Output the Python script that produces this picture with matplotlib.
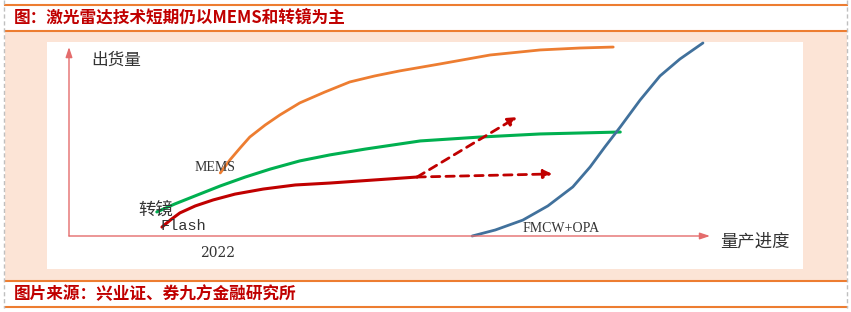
import matplotlib
matplotlib.use("Agg")
import matplotlib.pyplot as plt
from matplotlib.patches import Rectangle

plt.rcParams['font.family'] = ['Noto Sans CJK SC', 'DejaVu Sans']

# data (x = 量产进度, y = 出货量, arbitrary 0-100 scale)
mems_x = [23.6, 25.1, 26.7, 28.2, 30.6, 32.9, 36.0, 39.9, 43.8, 47.7, 51.6, 57.9, 65.7, 73.5, 79.7, 84.9]
mems_y = [32.5, 39.2, 45.4, 51.0, 57.2, 62.4, 68.6, 74.2, 79.4, 82.5, 85.1, 88.7, 93.3, 95.9, 96.9, 97.4]

mirror_x = [13.7, 16.5, 20.0, 23.6, 27.5, 31.4, 36.0, 40.7, 46.2, 54.8, 64.1, 73.5, 86.0]
mirror_y = [12.4, 16.5, 21.1, 25.8, 30.4, 34.5, 38.7, 41.8, 44.8, 49.0, 51.0, 52.6, 53.6]

flash_x = [14.5, 15.8, 17.3, 19.7, 22.5, 25.9, 30.3, 35.3, 40.7, 47.7, 54.3]
flash_y = [4.6, 8.2, 11.9, 15.5, 18.6, 21.6, 24.2, 26.3, 27.3, 28.9, 30.4]

fmcw_x = [62.9, 66.5, 70.8, 74.7, 78.6, 81.3, 83.6, 86.0, 89.1, 92.2, 95.3, 98.9]
fmcw_y = [0.0, 3.1, 8.2, 15.5, 25.3, 35.6, 45.9, 56.2, 70.1, 82.5, 91.2, 99.5]

arrow_start = (54.3, 30.4)
arrow_up_end = (69.9, 61.3)
arrow_flat_end = (75.4, 32.0)

title = "图：激光雷达技术短期仍以MEMS和转镜为主"
source = "图片来源：兴业证、券九方金融研究所"

W, H = 851, 312
fig = plt.figure(figsize=(W / 100, H / 100), dpi=100)

# background frame in pixel coords
bg = fig.add_axes([0, 0, 1, 1])
bg.set_xlim(0, W)
bg.set_ylim(H, 0)
bg.axis('off')
bg.add_patch(Rectangle((5, 31), 842, 250, color='#FCE4D6', lw=0))
bg.add_patch(Rectangle((47, 42), 756, 227, color='white', lw=0))
for yy in [5, 30.5, 281, 307]:
    bg.plot([5, 847], [yy, yy], color='#ED7D31', lw=1.5)
for xx in [4, 847]:
    bg.plot([xx, xx], [0, 308], color='#BFBFBF', lw=1, ls=(0, (3, 2)))
bg.text(14, 17.5, title, color='#C00000', fontsize=12, fontweight='bold', va='center')
bg.text(14, 294, source, color='#C00000', fontsize=12, fontweight='bold', va='center')

# chart axes
ax = fig.add_axes([69 / W, (H - 236) / H, 641 / W, 194 / H])
ax.set_xlim(0, 100)
ax.set_ylim(0, 100)
ax.axis('off')
ax.patch.set_alpha(0)

axis_col = '#E46C6C'
ax.annotate('', xy=(0, 0.974), xytext=(0, 0), xycoords='axes fraction',
            arrowprops=dict(arrowstyle='-|>,head_length=0.6,head_width=0.2', color=axis_col, lw=1,
                            shrinkA=0, shrinkB=0))
ax.annotate('', xy=(1.0, 0), xytext=(0, 0), xycoords='axes fraction',
            arrowprops=dict(arrowstyle='-|>,head_length=0.6,head_width=0.2', color=axis_col, lw=1,
                            shrinkA=0, shrinkB=0))

ax.plot(mems_x, mems_y, color='#ED7D31', lw=2, solid_capstyle='round', solid_joinstyle='round', clip_on=False)
ax.plot(mirror_x, mirror_y, color='#00B050', lw=2.2, solid_capstyle='round', solid_joinstyle='round', clip_on=False)
ax.plot(flash_x, flash_y, color='#C00000', lw=2.2, solid_capstyle='round', solid_joinstyle='round', clip_on=False)
ax.plot(fmcw_x, fmcw_y, color='#41719C', lw=2, solid_capstyle='round', solid_joinstyle='round', clip_on=False)

for end in [arrow_up_end, arrow_flat_end]:
    ax.annotate('', xy=end, xytext=arrow_start,
                arrowprops=dict(arrowstyle='-|>,head_length=0.5,head_width=0.25', color='#C00000',
                                lw=2, linestyle=(0, (3, 2.2)), shrinkA=0, shrinkB=0))

# labels
txt_col = '#333333'
ax.text(0.034, 0.907, "出货量", transform=ax.transAxes, fontsize=12, va='center', color=txt_col)
ax.text(1.016, -0.03, "量产进度", transform=ax.transAxes, fontsize=12.5, va='center', color=txt_col)
ax.text(20.4, -8.8, "2022", fontsize=10, family='DejaVu Serif', va='center', color=txt_col)
ax.text(19.6, 35.5, "MEMS", fontsize=10, family='Liberation Serif', va='center', color=txt_col)
ax.text(10.8, 13.4, "转镜", fontsize=12.5, va='center', color=txt_col)
ax.text(14.2, 5.2, "Flash", fontsize=11, family='Liberation Mono', va='center', color=txt_col)
ax.text(70.8, 4.1, "FMCW+OPA", fontsize=10, family='Liberation Serif', va='center', color=txt_col)

fig.savefig("out.png", dpi=100)
